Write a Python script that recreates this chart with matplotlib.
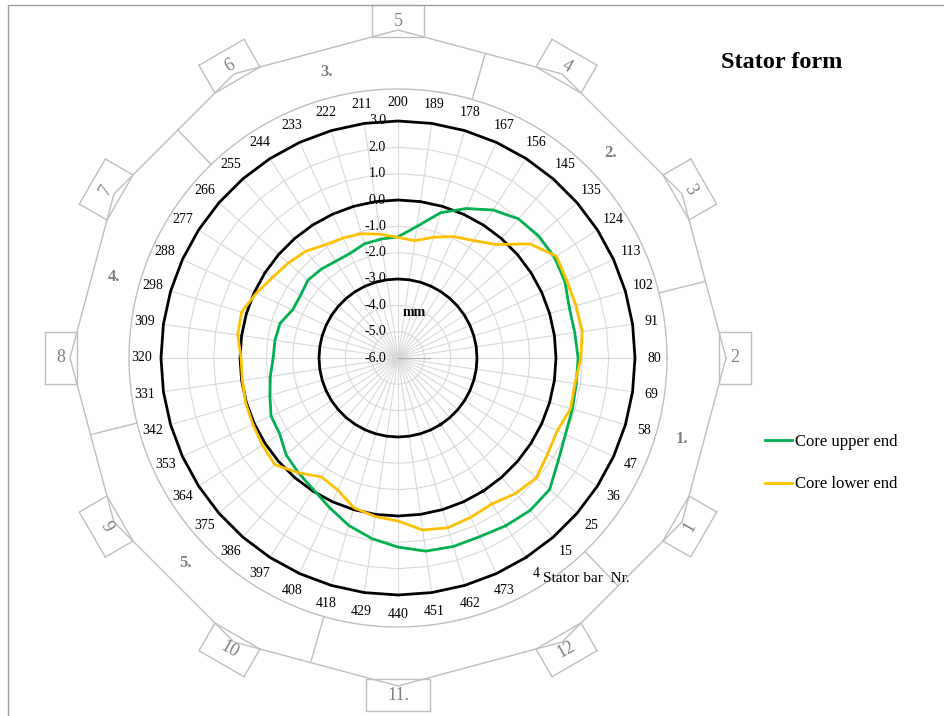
import numpy as np
import matplotlib
matplotlib.use('Agg')
import matplotlib.pyplot as plt
import matplotlib.patches as patches
from matplotlib.transforms import offset_copy

plt.rcParams['font.family'] = ['Liberation Serif', 'DejaVu Serif']

## stator bar numbers around the radar, counter clockwise from bar 4
bars = [4, 15, 25, 36, 47, 58, 69, 80, 91, 102, 113, 124, 135, 145, 156, 167, 178, 189,
        200, 211, 222, 233, 244, 255, 266, 277, 288, 298, 309, 320, 331, 342, 353, 364,
        375, 386, 397, 408, 418, 429, 440, 451, 462, 473]
upper_end = [1.57, 1.66, 1.62, 1.23, 0.99, 0.90, 0.84, 0.84, 0.78, 0.78, 0.97, 1.07,
             1.07, 0.99, 0.68, 0.24, -0.25, -0.95, -1.40, -1.44, -1.48, -1.63, -1.63, -1.54,
             -1.48, -1.60, -1.60, -1.33, -1.28, -1.26, -1.10, -0.93, -0.70, -0.66, -0.38, -0.23,
             -0.06, 0.25, 0.63, 0.93, 1.18, 1.41, 1.46, 1.46]
lower_end = [0.59, 0.81, 0.95, 0.75, 0.65, 0.83, 0.79, 0.94, 1.07, 1.05, 1.05, 1.15,
             0.62, -0.30, -0.70, -0.93, -1.22, -1.50, -1.42, -1.25, -1.08, -0.99, -0.89, -0.64,
             -0.49, -0.34, -0.08, 0.19, 0.15, -0.04, -0.03, 0.03, 0.06, 0.12, 0.19, -0.23,
             -0.63, -0.49, -0.07, 0.08, 0.19, 0.60, 0.72, 0.65]
r_ticks = [-6.0, -5.0, -4.0, -3.0, -2.0, -1.0, 0.0, 1.0, 2.0, 3.0]
black_rings = [-3.0, 0.0, 3.0]
## stator frame segments (boxes start at 0 deg), sector names start at 44 deg
segment_boxes = ['2', '3', '4', '5', '6', '7', '8', '9', '10', '11.', '12', '1']
sector_names = ['2.', '3.', '4.', '5.', '', '1.']

W, H = 945, 716
cx, cy, R = 398, 358, 237          # centre and radius of the plot area in pixels
scale = R / (r_ticks[-1] - r_ticks[0])
rmin = r_ticks[0]

grid_col = '#d9d9d9'
frame_col = '#bfbfbf'
green = '#00b050'
yellow = '#ffc000'

fig = plt.figure(figsize=(W / 100, H / 100), dpi=100)
ax = fig.add_axes([(cx - R) / W, (H - cy - R) / H, 2 * R / W, 2 * R / H], projection='polar')
ax.set_ylim(rmin, r_ticks[-1])
ax.grid(False)
ax.set_xticks([])
ax.set_yticks([])
ax.spines['polar'].set_visible(False)
ax.patch.set_visible(False)

n = len(bars)
step = 2 * np.pi / n
top = bars.index(200)
theta = np.pi / 2 + (np.arange(n) - top) * step
closed = np.append(theta, theta[0])

def close(vals):
    return np.append(vals, vals[0])

def px_to_polar(x, y):
    return np.arctan2(y, x), np.hypot(x, y) / scale + rmin

# grid
for t in theta:
    ax.plot([t, t], [rmin, r_ticks[-1]], color=grid_col, lw=0.8, zorder=1)
for v in r_ticks[1:]:
    ax.plot(closed, [v] * (n + 1), color=grid_col, lw=0.8, zorder=1)
ax.plot([0, 0], [rmin, rmin + 32 / scale], color='#b0b0b0', lw=0.9, zorder=1)

for v in black_rings:
    ax.plot(closed, [v] * (n + 1), color='black', lw=2.0, zorder=3, clip_on=False)

l1, = ax.plot(closed, close(upper_end), color=green, lw=2.0, zorder=4, label='Core upper end')
l2, = ax.plot(closed, close(lower_end), color=yellow, lw=2.0, zorder=4, label='Core lower end')

# category labels
for t, b in zip(theta, bars):
    ax.text(t, rmin + 256 / scale, str(b), ha='center', va='center', fontsize=10, clip_on=False)

# radial labels
tr = offset_copy(ax.transData, fig=fig, x=-12, y=0, units='dots')
for v in r_ticks:
    ax.text(np.pi / 2, v, '%.1f' % v, ha='right', va='center', fontsize=10,
            transform=tr, zorder=5)
ax.text((414 - cx + R) / (2 * R), (cy - 312 + R) / (2 * R), 'mm', fontsize=10,
        fontweight='bold', ha='center', va='center', transform=ax.transAxes)

# stator frame drawing
ring_r = 269
ring_t = np.linspace(0, 2 * np.pi, 400)
ax.plot(ring_t, [rmin + ring_r / scale] * len(ring_t), color=frame_col, lw=1, clip_on=False)

vert_r = 328
nb = len(segment_boxes)
vt = np.arange(nb + 1) * 2 * np.pi / nb
ax.plot(vt, [rmin + vert_r / scale] * (nb + 1), color=frame_col, lw=1, clip_on=False)

half = np.pi / nb
sec0 = np.deg2rad(14)
for k, name in enumerate(sector_names):
    a = sec0 + k * np.pi / 3
    rel = (a % (2 * half)) - half
    ro = vert_r * np.cos(half) / np.cos(rel)
    ax.plot([a, a], [rmin + ring_r / scale, rmin + ro / scale], color=frame_col, lw=1,
            clip_on=False)
    if name:
        am = a + np.pi / 6
        ax.text(am, rmin + 295 / scale, name, color='#808080', fontsize=12,
                fontweight='bold', ha='center', va='center', clip_on=False)

box_r = 337
for k, name in enumerate(segment_boxes):
    a = k * 2 * np.pi / nb
    ur = np.array([np.cos(a), np.sin(a)])
    ut = np.array([-np.sin(a), np.cos(a)])
    c = ur * box_r
    hw = 32 if len(name) > 2 else 26
    hh = 16
    corners = [c + ut * hw + ur * hh, c - ut * hw + ur * hh, c - ut * hw - ur * hh,
               c + ut * hw - ur * hh]
    corners.append(corners[0])
    pts = [px_to_polar(p[0], p[1]) for p in corners]
    ax.plot([p[0] for p in pts], [p[1] for p in pts], color=frame_col, lw=1, clip_on=False)
    deg = np.rad2deg(a)
    if deg % 180 == 0:
        rot = 0
    elif deg < 180:
        rot = deg - 90
    else:
        rot = deg + 90 - 360
    ax.text(a, rmin + box_r / scale, name, rotation=rot, rotation_mode='anchor',
            ha='center', va='center', color='#808080', fontsize=13, clip_on=False)

fig.text(543 / W, 1 - 578 / H, 'Stator bar  Nr.', fontsize=11, ha='left', va='center')
fig.text(782 / W, 1 - 63 / H, 'Stator form', fontsize=17.5, fontweight='bold',
         ha='center', va='center')

fig.legend(handles=[l1, l2], loc='center left', bbox_to_anchor=(765 / W, 1 - 463 / H),
           frameon=False, fontsize=12, handlelength=1.6, handletextpad=0.2,
           labelspacing=1.62, borderpad=0, borderaxespad=0)

fig.patches.append(patches.Rectangle((8 / W, -0.01), 1.02 - 8 / W, 1 - 5 / H + 0.01,
                                     transform=fig.transFigure, fill=False,
                                     edgecolor='#a0a0a0', lw=1))

fig.savefig('out.png', dpi=100)
